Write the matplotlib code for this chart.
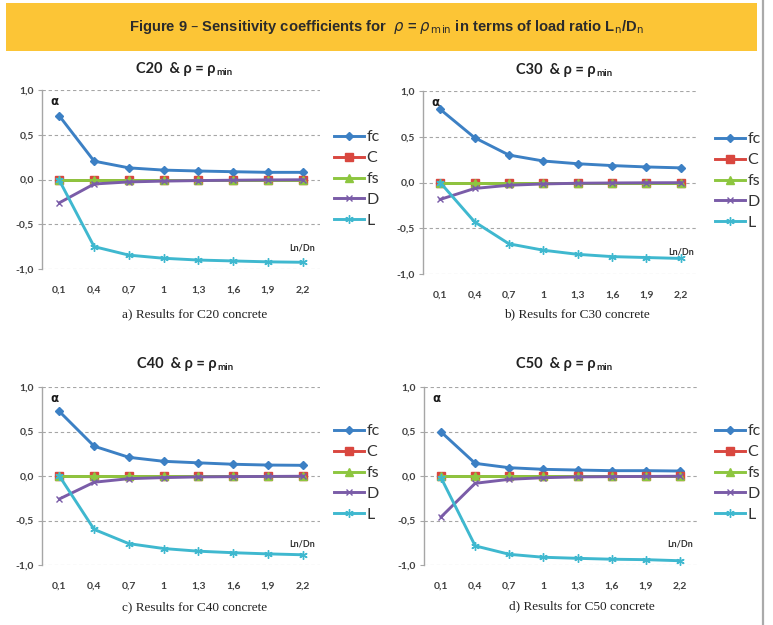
import matplotlib
matplotlib.use("Agg")
import matplotlib.pyplot as plt
from matplotlib.lines import Line2D

W, H = 773, 625

x_labels = ["0,1", "0,4", "0,7", "1", "1,3", "1,6", "1,9", "2,2"]
series_names = ["fc", "C", "fs", "D", "L"]

c20_fc = [0.71, 0.205, 0.13, 0.105, 0.095, 0.087, 0.08, 0.08]
c20_C = [0, 0, 0, 0, 0, 0, 0, 0]
c20_fs = [0, 0, 0, 0, 0, 0, 0, 0]
c20_D = [-0.26, -0.05, -0.027, -0.018, -0.012, -0.008, -0.005, -0.003]
c20_L = [-0.01, -0.75, -0.845, -0.88, -0.90, -0.91, -0.92, -0.925]

c30_fc = [0.80, 0.49, 0.30, 0.235, 0.205, 0.185, 0.17, 0.16]
c30_C = [0, 0, 0, 0, 0, 0, 0, 0]
c30_fs = [0, 0, 0, 0, 0, 0, 0, 0]
c30_D = [-0.185, -0.065, -0.03, -0.016, -0.008, -0.005, -0.003, -0.002]
c30_L = [0.0, -0.43, -0.67, -0.74, -0.785, -0.81, -0.82, -0.83]

c40_fc = [0.725, 0.335, 0.21, 0.165, 0.148, 0.132, 0.123, 0.12]
c40_C = [0, 0, 0, 0, 0, 0, 0, 0]
c40_fs = [0, 0, 0, 0, 0, 0, 0, 0]
c40_D = [-0.258, -0.07, -0.03, -0.018, -0.01, -0.007, -0.005, -0.003]
c40_L = [0.0, -0.60, -0.76, -0.815, -0.845, -0.862, -0.875, -0.885]

c50_fc = [0.495, 0.142, 0.093, 0.075, 0.067, 0.06, 0.06, 0.056]
c50_C = [0, 0, 0, 0, 0, 0, 0, 0]
c50_fs = [0, 0, 0, 0, 0, 0, 0, 0]
c50_D = [-0.46, -0.082, -0.037, -0.019, -0.01, -0.007, -0.005, -0.003]
c50_L = [-0.02, -0.785, -0.88, -0.913, -0.925, -0.935, -0.94, -0.952]

panel_titles = ["C20", "C30", "C40", "C50"]
captions = ["a) Results for C20 concrete", "b) Results for C30 concrete",
            "c) Results for C40 concrete", "d) Results for C50 concrete"]
y_ticks = [-1.0, -0.5, 0.0, 0.5, 1.0]
y_tick_labels = ["-1,0", "-0,5", "0,0", "0,5", "1,0"]

panels = [
    [c20_fc, c20_C, c20_fs, c20_D, c20_L],
    [c30_fc, c30_C, c30_fs, c30_D, c30_L],
    [c40_fc, c40_C, c40_fs, c40_D, c40_L],
    [c50_fc, c50_C, c50_fs, c50_D, c50_L],
]

colors = ["#3C80C4", "#D9473F", "#8DC63F", "#7A5CA8", "#3FB8CF"]
markers = ["D", "s", "^", "x", (6, 2, 0)]
msizes = [4.5, 5.5, 5.5, 5, 6]

# layout in pixels: (left, right, top, bottom)
axes_px = [(42, 320, 90, 269), (423, 698, 91, 274), (42, 320, 387, 565), (424, 697, 387, 565)]
title_px = [(182, 69), (562, 70), (183, 364), (562, 364)]
caption_px = [(195, 314), (577, 314), (195, 607), (582, 606)]
legend_px = [(334, 179), (715, 181), (334, 473), (715, 473)]

tick_font = "Lato"
fig = plt.figure(figsize=(W / 100, H / 100), dpi=100)
fig.patch.set_facecolor("white")

def fx(x):
    return x / W

def fy(y):
    return 1 - y / H

# header band
fig.patches.append(plt.Rectangle((fx(6), fy(51)), fx(757) - fx(6), fy(3) - fy(51),
                                 transform=fig.transFigure, facecolor="#FCC536",
                                 edgecolor="none", zorder=0))
plt.rcParams["mathtext.fontset"] = "dejavusans"
fig.text(fx(386), fy(27),
         r"Figure 9 – Sensitivity coefficients for  $\rho$ = $\rho_{\,\mathrm{min}}$ in terms of load ratio L$_\mathrm{n}$/D$_\mathrm{n}$",
         ha="center", va="center", fontsize=10.6, family=["Liberation Sans", "DejaVu Sans"],
         fontweight="bold", color="#2b2b2b")
# right border line
fig.lines.append(Line2D([fx(763), fx(763)], [0, 1], transform=fig.transFigure,
                        color="#AAAAAA", linewidth=1.6))

for i in range(4):
    l, r, t, b = axes_px[i]
    ax = fig.add_axes([fx(l), fy(b), fx(r) - fx(l), fy(t) - fy(b)])
    xs = list(range(len(x_labels)))
    for k, vals in enumerate(panels[i]):
        ax.plot(xs, vals, color=colors[k], marker=markers[k], markersize=msizes[k],
                linewidth=2.1, markeredgewidth=1.0, label=series_names[k],
                markeredgecolor=colors[k], clip_on=False, zorder=3 + k)
    ax.set_xlim(-0.5, len(x_labels) - 0.5)
    ax.set_ylim(-1.0, 1.0)
    ax.set_yticks(y_ticks)
    ax.set_yticklabels(y_tick_labels)
    ax.set_xticks(xs)
    ax.set_xticklabels(x_labels)
    for yv in y_ticks:
        ax.axhline(yv, color="#A6A6A6", linewidth=0.8, linestyle=(0, (3, 2.5)), zorder=1)
    for s in ["top", "right", "bottom"]:
        ax.spines[s].set_visible(False)
    ax.spines["left"].set_color("#A6A6A6")
    ax.spines["left"].set_linewidth(1.0)
    ax.tick_params(axis="y", length=3, width=0.8, color="#A6A6A6", pad=3,
                   labelsize=7.5, labelcolor="#404040")
    ax.tick_params(axis="x", length=0, pad=12, labelsize=7.5, labelcolor="#404040")
    for lab in ax.get_xticklabels() + ax.get_yticklabels():
        lab.set_fontfamily(tick_font)
        lab.set_fontweight("bold")
    ax.set_facecolor("none")
    ax.text(0.03, 0.935, "α", transform=ax.transAxes, fontsize=8.5, fontweight="bold",
            ha="left", va="center", color="#1a1a1a")
    ax.text(7, -0.765, "Ln/Dn", fontsize=6.5, fontweight="bold", ha="center", va="center",
            family=tick_font, color="#333333")

    tx, ty = title_px[i]
    main = fig.text(fx(tx - 6), fy(ty), panel_titles[i] + "  & ρ = ρ", ha="center", va="center",
                    fontsize=10.5, fontweight="bold", family=tick_font, color="#222222")
    ax.annotate("min", xy=(1, 0), xycoords=main, xytext=(0.5, -0.5), textcoords="offset points",
                ha="left", va="bottom", fontsize=7, fontweight="bold", family=tick_font,
                color="#222222", annotation_clip=False)

    cx, cy = caption_px[i]
    fig.text(fx(cx), fy(cy), captions[i], ha="center", va="center", fontsize=9.5,
             family="Liberation Serif", color="#222222")

    lx, ly = legend_px[i]
    handles, labels = ax.get_legend_handles_labels()
    fig.legend(handles, labels, loc="center left", bbox_to_anchor=(fx(lx), fy(ly)),
               bbox_transform=fig.transFigure, frameon=False,
               handlelength=1.9, handletextpad=0.15, labelspacing=0.42, borderpad=0,
               borderaxespad=0, labelcolor="#333333",
               prop={"family": tick_font, "size": 11.5})

fig.savefig("out.png", dpi=100, facecolor="white")
